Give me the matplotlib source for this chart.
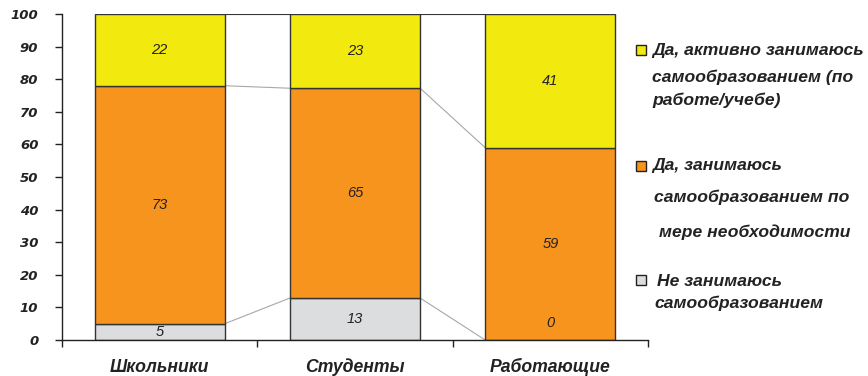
import numpy as np
import matplotlib.pyplot as plt

categories = ['Школьники', 'Студенты', 'Работающие']
not_engaged = [5, 13, 0]
when_needed = [73, 65, 59]
actively = [22, 23, 41]

colors = ['#DCDDDF', '#F7941E', '#F2E90F']
plt.rcParams['font.family'] = ['Liberation Sans', 'DejaVu Sans']

data = np.array([not_engaged, when_needed, actively], dtype=float)
pct = data / data.sum(axis=0) * 100
bottoms = np.vstack([np.zeros(3), np.cumsum(pct, axis=0)[:-1]])
tops = bottoms + pct

fig = plt.figure(figsize=(8.68, 3.76), dpi=100)
ax = fig.add_axes([62 / 868, 1 - 340 / 376, 586 / 868, 326 / 376])

x = np.arange(len(categories))
width = 0.667
for i in range(3):
    ax.bar(x, pct[i], width, bottom=bottoms[i], color=colors[i],
           edgecolor='#333333', linewidth=1.0, zorder=2)

# series lines between bars
for i in range(3):
    for j in range(2):
        col = '#333333' if i == 2 else '#A8A8A8'
        ax.plot([x[j] + width / 2, x[j + 1] - width / 2], [tops[i][j], tops[i][j + 1]],
                color=col, linewidth=0.8, zorder=1)

# value labels
for i in range(3):
    for j in range(3):
        yc = bottoms[i][j] + pct[i][j] / 2
        if data[i][j] == 0:
            yc = 5.2
        ax.text(x[j], yc, '%d' % data[i][j], ha='center', va='center',
                fontsize=10.5, style='italic', color='#222222', zorder=3)

ax.set_xlim(-0.5, 2.5)
ax.set_ylim(0, 100)
ax.set_yticks(np.arange(0, 101, 10))
ax.set_xticks([-0.5, 0.5, 1.5, 2.5])
ax.set_xticklabels([])
ax.tick_params(axis='both', direction='out', length=5, width=1, color='#222222')
for lab in ax.get_yticklabels():
    lab.set_fontweight('bold')
    lab.set_fontstyle('italic')
    lab.set_fontsize(9.5)
    lab.set_family('DejaVu Sans')
    lab.set_color('#222222')
ax.tick_params(axis='y', pad=12)
for sp in ['top', 'right']:
    ax.spines[sp].set_visible(False)
for sp in ['left', 'bottom']:
    ax.spines[sp].set_color('#222222')
    ax.spines[sp].set_linewidth(1)

for j, c in enumerate(categories):
    ax.text(x[j], -8.3, c, ha='center', va='center', fontsize=12.7,
            fontweight='bold', style='italic', color='#222222',
            transform=ax.transData, clip_on=False)

# legend, drawn by hand to keep the odd line spacing
legend_rows = [
    (2, [(652, 51, 'Да, активно занимаюсь'), (652, 77, 'самообразованием (по'), (652, 100, 'работе/учебе)')], 50),
    (1, [(652, 166, 'Да, занимаюсь'), (654, 197, 'самообразованием по'), (659, 232, 'мере необходимости')], 166),
    (0, [(657, 281, 'Не занимаюсь'), (654, 303, 'самообразованием')], 280),
]
for idx, lines, sy in legend_rows:
    fig.patches.append(plt.Rectangle((636 / 868, 1 - (sy + 5) / 376), 10 / 868, 10 / 376,
                                     transform=fig.transFigure, facecolor=colors[idx],
                                     edgecolor='#222222', linewidth=1))
    for lx, ly, t in lines:
        fig.text(lx / 868, 1 - ly / 376, t, ha='left', va='center', fontsize=12.6,
                 fontweight='bold', style='italic', color='#222222')

fig.savefig('out.png', dpi=100)
